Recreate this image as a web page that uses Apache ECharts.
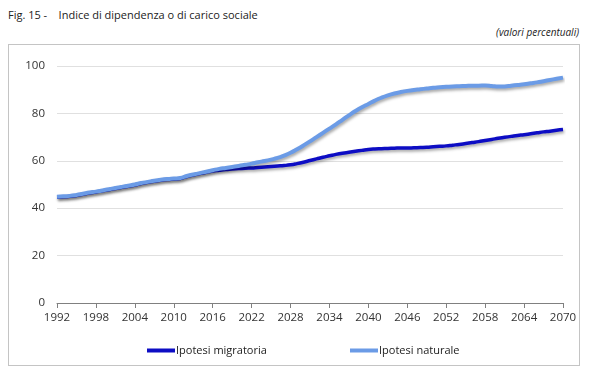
<!DOCTYPE html>
<html>
<head>
<meta charset="utf-8">
<script src="https://cdn.jsdelivr.net/npm/echarts@6/dist/echarts.min.js"></script>
<style>
  html, body { margin: 0; padding: 0; background: #fff; }
  #wrap { position: relative; width: 600px; height: 383px; }
  #title { position: absolute; left: 8px; top: 7px; font: 11px "Open Sans", "Noto Sans", sans-serif; color: #222; white-space: pre; }
  #unit { position: absolute; right: 21px; top: 25px; font: italic 10px "Open Sans", "Noto Sans", sans-serif; color: #222; }
  #box { position: absolute; left: 8px; top: 44px; width: 570px; height: 320px; border: 1px solid #c4c4c4; }
  #chart { position: absolute; left: 0; top: 0; width: 600px; height: 383px; }
</style>
</head>
<body>
<div id="wrap">
  <div id="title">Fig. 15 -    Indice di dipendenza o di carico sociale</div>
  <div id="unit">(valori percentuali)</div>
  <div id="box"></div>
  <div id="chart"></div>
</div>
<script>
const years = [];
for (let y = 1992; y <= 2070; y++) years.push(String(y));

const seriesNames = ['Ipotesi migratoria', 'Ipotesi naturale'];

const naturale = [
  44.8, 45.0, 45.2, 45.6, 46.1, 46.6, 47.0, 47.5, 48.0, 48.5,
  49.0, 49.5, 50.0, 50.6, 51.1, 51.6, 52.0, 52.3, 52.5, 52.7,
  53.6, 54.2, 54.8, 55.4, 56.0, 56.6, 57.0, 57.4, 57.8, 58.3,
  58.8, 59.4, 59.9, 60.5, 61.2, 62.2, 63.4, 64.9, 66.5, 68.2,
  70.0, 71.8, 73.6, 75.4, 77.3, 79.2, 81.0, 82.6, 84.0, 85.4,
  86.6, 87.6, 88.4, 89.0, 89.5, 89.9, 90.2, 90.5, 90.8, 91.0,
  91.2, 91.4, 91.5, 91.6, 91.7, 91.7, 91.8, 91.6, 91.3, 91.4,
  91.7, 92.0, 92.3, 92.7, 93.1, 93.6, 94.1, 94.6, 95.1
];

const migratoria = [
  44.6, 44.8, 45.0, 45.4, 45.9, 46.4, 46.8, 47.3, 47.8, 48.3,
  48.8, 49.3, 49.8, 50.4, 50.9, 51.4, 51.8, 52.1, 52.3, 52.5,
  53.4, 54.0, 54.6, 55.2, 55.7, 56.0, 56.3, 56.5, 56.7, 56.9,
  57.0, 57.2, 57.4, 57.6, 57.8, 58.0, 58.3, 58.8, 59.4, 60.1,
  60.8, 61.5, 62.1, 62.7, 63.2, 63.6, 64.0, 64.4, 64.8, 65.0,
  65.1, 65.2, 65.3, 65.4, 65.4, 65.5, 65.6, 65.7, 65.9, 66.1,
  66.3, 66.6, 66.9, 67.3, 67.7, 68.1, 68.6, 69.0, 69.5, 69.9,
  70.3, 70.7, 71.0, 71.4, 71.8, 72.2, 72.5, 72.9, 73.2
];

const yTicks = { min: 0, max: 100, interval: 20 };

const FONT = '"Open Sans", "Noto Sans", sans-serif';
const chart = echarts.init(document.getElementById('chart'), null, { renderer: 'canvas' });
const shadow = { shadowColor: 'rgba(0,0,0,0.35)', shadowBlur: 3, shadowOffsetX: 1, shadowOffsetY: 2 };

chart.setOption({
  animation: false,
  grid: { left: 57, right: 37, top: 66, bottom: 80 },
  legend: [
    {
      data: [seriesNames[0]], left: 142, top: 340, icon: 'rect', itemWidth: 28, itemHeight: 4,
      textStyle: { fontFamily: FONT, fontSize: 11, color: '#222', padding: [0, 0, 0, -4] }
    },
    {
      data: [seriesNames[1]], left: 345, top: 340, icon: 'rect', itemWidth: 28, itemHeight: 4,
      textStyle: { fontFamily: FONT, fontSize: 11, color: '#222', padding: [0, 0, 0, -4] }
    }
  ],
  xAxis: {
    type: 'category',
    data: years,
    boundaryGap: false,
    axisLine: { lineStyle: { color: '#808080', width: 1 } },
    axisTick: { interval: 5, length: 5, inside: false, lineStyle: { color: '#808080' } },
    axisLabel: { interval: 5, fontFamily: FONT, fontSize: 11.5, color: '#333', margin: 9 },
    splitLine: { show: false }
  },
  yAxis: {
    type: 'value',
    min: yTicks.min, max: yTicks.max, interval: yTicks.interval,
    axisLine: { show: false },
    axisTick: { show: false },
    axisLabel: { fontFamily: FONT, fontSize: 11.5, color: '#333', margin: 12 },
    splitLine: { lineStyle: { color: '#e0e0e0', width: 1 } }
  },
  series: [
    {
      name: seriesNames[0], type: 'line', data: migratoria, symbol: 'none', smooth: true,
      color: '#0d0dc4',
      lineStyle: Object.assign({ width: 3.5, color: '#0d0dc4' }, shadow), z: 2
    },
    {
      name: seriesNames[1], type: 'line', data: naturale, symbol: 'none', smooth: true,
      color: '#6b9be6',
      lineStyle: Object.assign({ width: 4, color: '#6b9be6' }, shadow), z: 3
    }
  ]
});
</script>
</body>
</html>
